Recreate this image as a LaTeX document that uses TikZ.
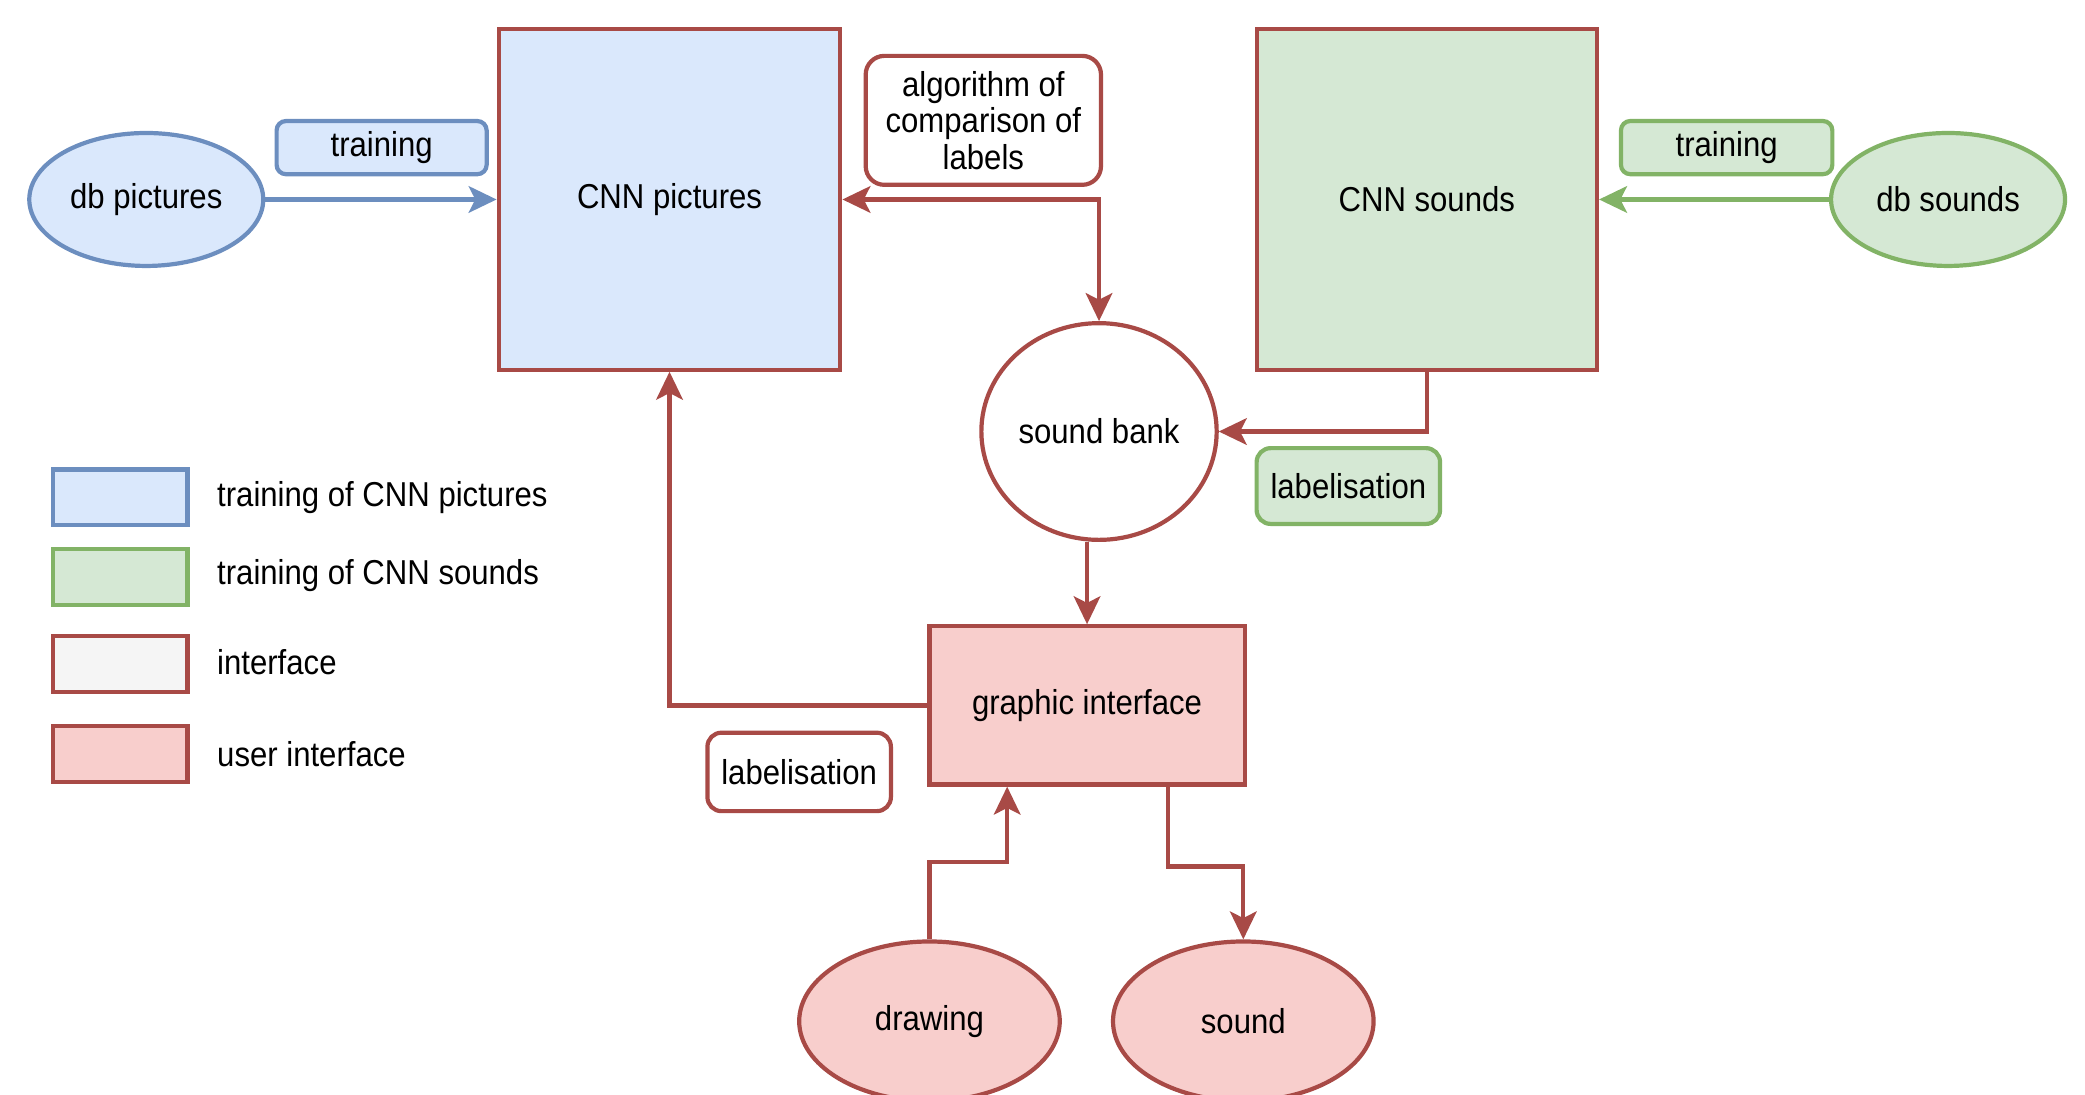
\documentclass[tikz,border=0pt]{standalone}
\usepackage{fontspec}
\setmainfont{Liberation Sans}[FakeStretch=0.9]
\usetikzlibrary{shapes.geometric,arrows.meta}

\definecolor{blueFill}{HTML}{DAE8FC}
\definecolor{blueLine}{HTML}{6C8EBF}
\definecolor{greenFill}{HTML}{D5E8D4}
\definecolor{greenLine}{HTML}{82B366}
\definecolor{redFill}{HTML}{F8CECC}
\definecolor{redLine}{HTML}{A84A46}
\definecolor{greyFill}{HTML}{F5F5F5}

\tikzstyle{trainPic}=[draw=blueLine,fill=blueFill,line width=1.8pt]
\tikzstyle{trainSnd}=[draw=greenLine,fill=greenFill,line width=1.8pt]
\tikzstyle{iface}=[draw=redLine,fill=white,line width=1.8pt]
\tikzstyle{userIface}=[draw=redLine,fill=redFill,line width=1.8pt]
\tikzstyle{legendBox}=[minimum width=2.02cm,minimum height=0.84cm]
\tikzstyle{link}=[->,line width=1.8pt]

\begin{document}
\begin{tikzpicture}[x=0.02cm,y=-0.02cm,inner sep=0pt,
    >={Stealth[length=0.42cm,width=0.4cm,inset=0.1cm]},
    font=\fontsize{14.8}{15.6}\selectfont]
        \useasboundingbox (0,0) rectangle (1568,823);

        % pictures side
        \node[trainPic,ellipse,minimum width=3.52cm,minimum height=2cm] (dbPic) at (110,150) {db pictures};
        \node[trainPic,rounded corners=4pt,minimum width=3.16cm,minimum height=0.8cm] (trainPicLbl) at (287,111) {training};
        \node[trainPic,draw=redLine,minimum width=5.14cm,minimum height=5.12cm] (cnnPic) at (503.5,150) {CNN pictures};
        \node[iface,rounded corners=8pt,minimum width=3.54cm,minimum height=1.94cm,align=center] (algo) at (739.5,90.5) {algorithm of\\comparison of\\labels};

        % sounds side
        \node[trainSnd,draw=redLine,minimum width=5.12cm,minimum height=5.12cm] (cnnSnd) at (1073,150) {CNN sounds};
        \node[trainSnd,rounded corners=4pt,minimum width=3.18cm,minimum height=0.8cm] (trainSndLbl) at (1298.5,111) {training};
        \node[trainSnd,ellipse,minimum width=3.52cm,minimum height=2cm] (dbSnd) at (1465,150) {db sounds};
        \node[iface,ellipse,minimum width=3.54cm,minimum height=3.26cm] (bank) at (826.5,324.5) {sound bank};
        \node[trainSnd,rounded corners=6pt,minimum width=2.76cm,minimum height=1.14cm] (labSnd) at (1014,365.5) {labelisation};

        % user side
        \node[userIface,minimum width=4.74cm,minimum height=2.38cm] (gui) at (817.5,530.5) {graphic interface};
        \node[iface,rounded corners=6pt,minimum width=2.76cm,minimum height=1.18cm] (labPic) at (601,580.5) {labelisation};
        \node[userIface,ellipse,minimum width=3.92cm,minimum height=2.4cm] (drawing) at (699,768) {drawing};
        \node[userIface,ellipse,minimum width=3.92cm,minimum height=2.4cm] (sound) at (935,768) {sound};

        % legend
        \node[trainPic,legendBox] (legPic) at (90.5,374) {};
        \node[anchor=west] (legPicTxt) at (163,374) {training of CNN pictures};
        \node[trainSnd,legendBox] (legSnd) at (90.5,434) {};
        \node[anchor=west] (legSndTxt) at (163,433) {training of CNN sounds};
        \node[iface,fill=greyFill,legendBox] (legIface) at (90.5,499.5) {};
        \node[anchor=west] (legIfaceTxt) at (163,498) {interface};
        \node[userIface,legendBox] (legUser) at (90.5,567) {};
        \node[anchor=west] (legUserTxt) at (163,567) {user interface};

        \draw [link,blueLine] (dbPic) to (cnnPic);
        \draw [link,greenLine] (dbSnd) to (cnnSnd);
        \draw [link,redLine,<->] (cnnPic.east) -| (bank.north);
        \draw [link,redLine] (cnnSnd.south) |- (bank.east);
        \draw [link,redLine] (gui.north |- bank.south) -- (gui.north);
        \draw [link,redLine] (gui.west) -| (cnnPic.south);
        \draw [link,redLine] (drawing.north) -- ++(0,-58) -| ([xshift=1.2cm]gui.south west);
        \draw [link,redLine] ([xshift=-1.18cm]gui.south east) -- ++(0,60) -| (sound.north);
    \end{tikzpicture}
\end{document}
